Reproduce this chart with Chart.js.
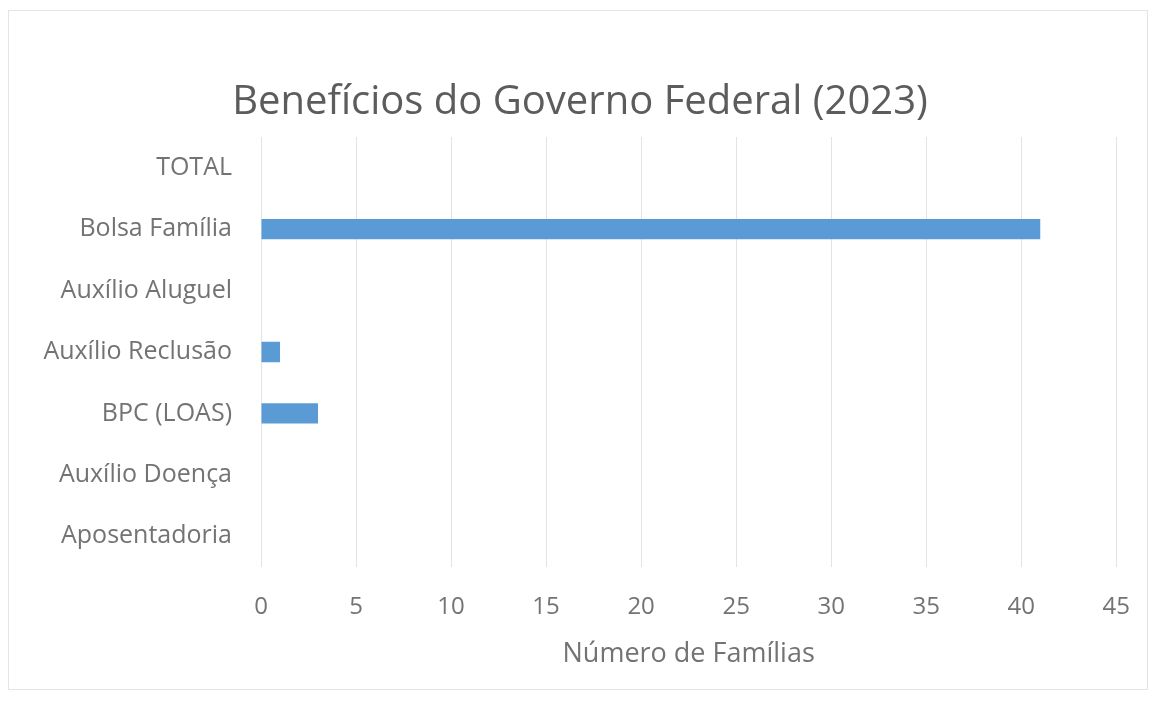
<!DOCTYPE html>
<html>
<head>
<meta charset="utf-8">
<script src="https://cdn.jsdelivr.net/npm/chart.js@4/dist/chart.umd.min.js"></script>
<style>
  html, body { margin: 0; padding: 0; background: #ffffff; }
  #wrap { position: relative; width: 1156px; height: 709px; }
  #frame { position: absolute; left: 8px; top: 10px; width: 1138px; height: 678px; border: 1px solid #e4e4e4; pointer-events: none; }
</style>
</head>
<body>
<div id="wrap">
  <canvas id="c" width="1156" height="709"></canvas>
  <div id="frame"></div>
</div>
<script>
const categories = ["TOTAL", "Bolsa Família", "Auxílio Aluguel", "Auxílio Reclusão", "BPC (LOAS)", "Auxílio Doença", "Aposentadoria"];
const familias = [0, 41, 0, 1, 3, 0, 0];
const chartTitle = "Benefícios do Governo Federal (2023)";
const xAxisTitle = "Número de Famílias";
const xMin = 0, xMax = 45, xStep = 5;

const FONT = "'Open Sans', 'Liberation Sans', sans-serif";
const GREY = "#737373";

new Chart(document.getElementById("c"), {
  type: "bar",
  data: {
    labels: categories,
    datasets: [{
      data: familias,
      backgroundColor: "#5b9bd5",
      borderWidth: 0,
      categoryPercentage: 1.0,
      barPercentage: 0.33
    }]
  },
  options: {
    indexAxis: "y",
    responsive: false,
    animation: false,
    devicePixelRatio: 1,
    layout: { padding: { left: 42, right: 38, top: 79, bottom: 38 } },
    plugins: {
      legend: { display: false },
      tooltip: { enabled: false },
      title: {
        display: true,
        text: chartTitle,
        color: "#5c5c5c",
        font: { family: FONT, size: 40, weight: "normal", lineHeight: 1.2 },
        padding: { top: 0, bottom: 10 }
      }
    },
    scales: {
      x: {
        min: xMin, max: xMax,
        ticks: { stepSize: xStep, color: GREY, font: { family: FONT, size: 24, lineHeight: 1.2 }, padding: 26 },
        grid: { color: "#e3e3e3", lineWidth: 1, drawTicks: false },
        border: { display: false },
        title: { display: true, text: xAxisTitle, color: GREY, font: { family: FONT, size: 27, lineHeight: 1.2 }, padding: { top: 0, bottom: 0 } },
        afterFit: (s) => { s.height = 104; }
      },
      y: {
        ticks: { color: GREY, font: { family: FONT, size: 25 }, padding: 29 },
        grid: { display: false, drawTicks: false },
        border: { display: false },
        afterFit: (s) => { s.width = 219; }
      }
    }
  }
});
</script>
</body>
</html>
